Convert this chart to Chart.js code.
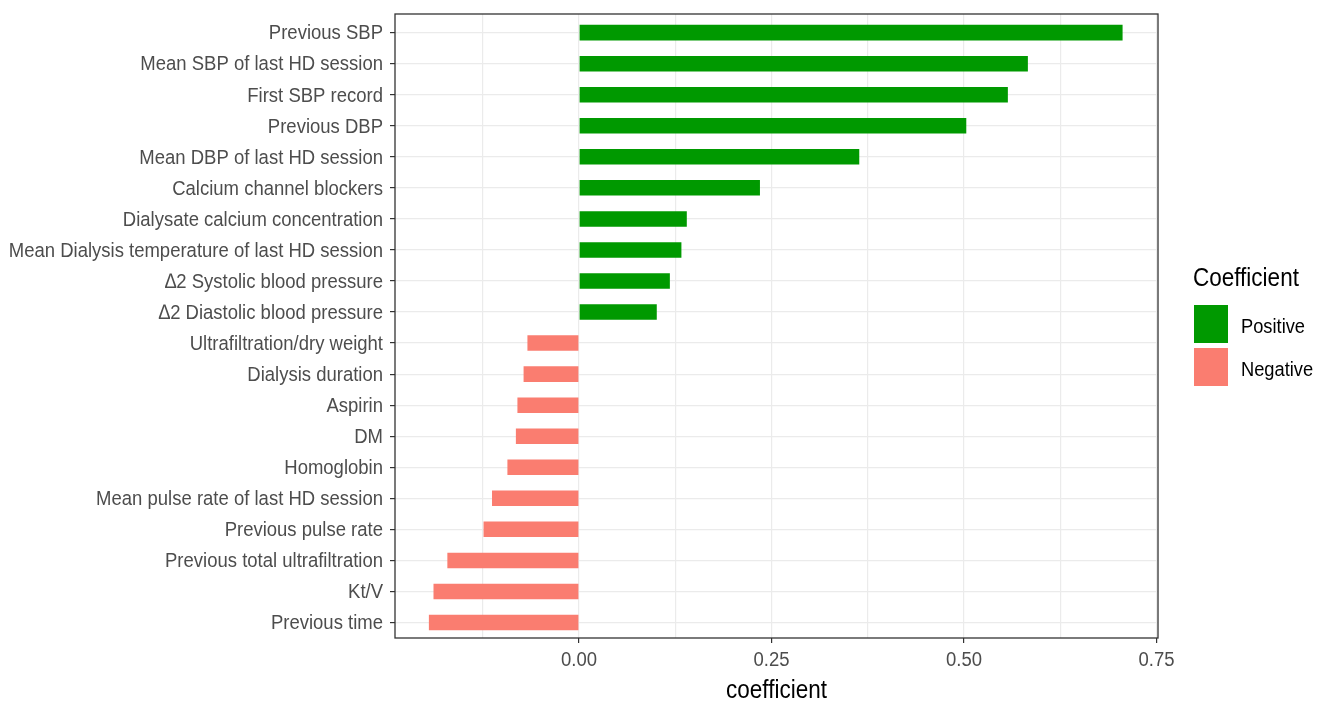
<!DOCTYPE html>
<html lang="en">
<head>
<meta charset="UTF-8" />
<title>Coefficient chart</title>
<style>
  body { margin: 0; background: #fff; }
  #wrap { width: 1317px; height: 703px; }
</style>
</head>
<body>
<div id="wrap"><canvas id="chart"></canvas></div>

<script src="https://cdn.jsdelivr.net/npm/chart.js"></script>
<script>
const features = [
  "Previous SBP",
  "Mean SBP of last HD session",
  "First SBP record",
  "Previous DBP",
  "Mean DBP of last HD session",
  "Calcium channel blockers",
  "Dialysate calcium concentration",
  "Mean Dialysis temperature of last HD session",
  "\u22062 Systolic blood pressure",
  "\u22062 Diastolic blood pressure",
  "Ultrafiltration/dry weight",
  "Dialysis duration",
  "Aspirin",
  "DM",
  "Homoglobin",
  "Mean pulse rate of last HD session",
  "Previous pulse rate",
  "Previous total ultrafiltration",
  "Kt/V",
  "Previous time"
];

const coefficients = [
  0.706, 0.583, 0.557, 0.503, 0.364, 0.235, 0.140, 0.133, 0.118, 0.101,
  -0.067, -0.072, -0.080, -0.082, -0.093, -0.113, -0.124, -0.171, -0.189, -0.195
];

const xTicks = [-0.125, 0, 0.125, 0.25, 0.375, 0.5, 0.625, 0.75];
const xLabels = ["", "0.00", "", "0.25", "", "0.50", "", "0.75"];
const legendItems = ["Positive", "Negative"];

const GREEN = "#009900";
const SALMON = "#FA7D70";
const FONT = "'Liberation Sans', Arial, sans-serif";
const STRETCH = 1.14; // the reference text is a bit taller than wide

function tallText(ctx, text, x, y, size, color, align) {
  ctx.save();
  ctx.translate(x, y);
  ctx.scale(1, STRETCH);
  ctx.font = size + "px " + FONT;
  ctx.fillStyle = color;
  ctx.textAlign = align;
  ctx.textBaseline = "middle";
  ctx.fillText(text, 0, 0);
  ctx.restore();
}

// frame, tick labels, axis title and legend
const extras = {
  id: "extras",
  afterDraw(chart) {
    const ctx = chart.ctx;
    const a = chart.chartArea;
    const xs = chart.scales.x;
    const ys = chart.scales.y;

    ctx.save();
    ctx.strokeStyle = "#333333";
    ctx.lineWidth = 1.3;
    ctx.strokeRect(a.left, a.top, a.right - a.left, a.bottom - a.top);
    ctx.restore();

    features.forEach((name, i) => {
      tallText(ctx, name, a.left - 12, ys.getPixelForValue(i) + 1, 18.5, "#4d4d4d", "right");
    });
    xTicks.forEach((v, i) => {
      if (xLabels[i]) tallText(ctx, xLabels[i], xs.getPixelForValue(v), a.bottom + 22, 18.5, "#4d4d4d", "center");
    });
    tallText(ctx, "coefficient", (a.left + a.right) / 2, a.bottom + 53, 22.5, "#000", "center");

    tallText(ctx, "Coefficient", 1193, 279, 22.5, "#000", "left");
    const colors = [GREEN, SALMON];
    legendItems.forEach((name, i) => {
      const y = 305 + i * 43;
      ctx.fillStyle = colors[i];
      ctx.fillRect(1194, y, 34, 38);
      tallText(ctx, name, 1241, y + 22, 18.3, "#000", "left");
    });
  }
};

new Chart(document.getElementById("chart"), {
  type: "bar",
  data: {
    datasets: [{
      data: coefficients.map((v, i) => ({ x: v, y: i })),
      backgroundColor: coefficients.map(v => v >= 0 ? GREEN : SALMON),
      barPercentage: 0.5,
      categoryPercentage: 1.0
    }]
  },
  options: {
    indexAxis: "y",
    responsive: true,
    maintainAspectRatio: false,
    animation: false,
    layout: { padding: { top: 14, right: 159, left: 0, bottom: 0 } },
    plugins: {
      legend: { display: false },
      tooltip: { enabled: false }
    },
    scales: {
      x: {
        type: "linear",
        min: -0.239,
        max: 0.752,
        afterBuildTicks(scale) {
          scale.ticks = xTicks.map(v => ({ value: v }));
        },
        afterFit(scale) { scale.height = 65; },
        border: { display: false },
        grid: {
          color: "#ebebeb",
          lineWidth: 1.2,
          tickLength: 5,
          tickColor: ctx => (ctx.tick && xLabels[xTicks.indexOf(ctx.tick.value)]) ? "#333333" : "rgba(0,0,0,0)"
        },
        ticks: { display: false }
      },
      y: {
        type: "linear",
        reverse: true,
        offset: false,
        min: -0.6,
        max: features.length - 0.5,
        afterBuildTicks(scale) {
          scale.ticks = features.map((f, i) => ({ value: i }));
        },
        afterFit(scale) { scale.width = 395; },
        border: { display: false },
        grid: {
          offset: false,
          color: "#ebebeb",
          lineWidth: 1.2,
          tickLength: 5,
          tickColor: "#333333"
        },
        ticks: { display: false }
      }
    }
  },
  plugins: [extras]
});
</script>
</body>
</html>
